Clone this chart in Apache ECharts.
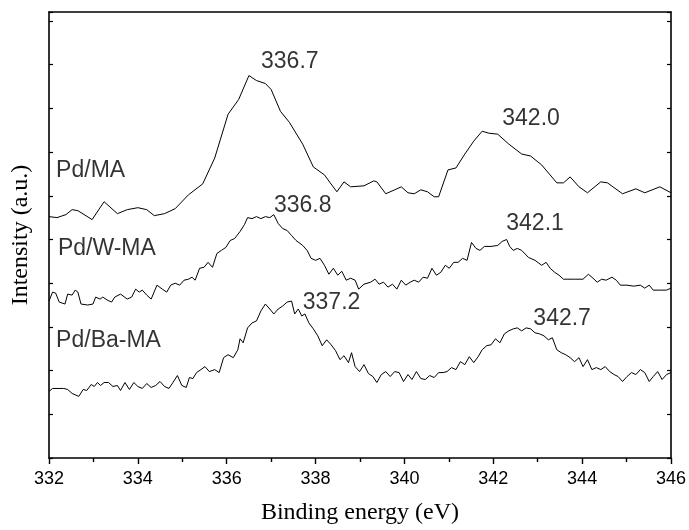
<!DOCTYPE html>
<html>
<head>
<meta charset="utf-8">
<script src="https://cdn.jsdelivr.net/npm/echarts@6/dist/echarts.min.js"></script>
<style>html,body{margin:0;padding:0;background:#fff;}#c{width:689px;height:530px;}</style>
</head>
<body>
<div id="c"></div>
<script>
// Binding energy (eV), intensity (a.u., offset stacked)
var pdMA = [
[332.00,243],[332.18,242],[332.38,245],[332.52,250],[332.65,249],[332.97,240],[333.24,258],[333.54,246],
[333.76,250],[334.00,252],[334.20,250],[334.37,244],[334.60,246],[334.84,251],[335.14,265],[335.46,276],
[335.73,302],[336.03,346],[336.27,361],[336.50,385],[336.67,380],[336.87,377],[337.00,371],[337.21,349],
[337.41,338],[337.71,316],[337.95,293],[338.20,285],[338.33,277],[338.48,268],[338.64,278],[338.79,273],
[339.09,274],[339.31,279],[339.38,278],[339.58,266],[339.78,270],[339.93,273],[340.08,267],[340.22,266],
[340.37,270],[340.52,268],[340.67,263],[340.77,263],[340.98,290],[341.16,292],[341.36,306],[341.56,319],
[341.75,329],[341.90,327],[342.10,326],[342.35,316],[342.64,306],[342.84,304],[343.09,295],[343.43,277],
[343.58,277],[343.73,283],[343.93,273],[344.12,267],[344.42,278],[344.57,277],[344.91,266],[345.21,271],
[345.41,267],[345.75,273],[346.00,267]
];
var pdWMA = [
[332.00,158],[332.08,167],[332.15,166],[332.23,157],[332.36,155],[332.42,165],[332.52,164],[332.59,169],
[332.65,167],[332.72,155],[332.87,154],[332.99,155],[333.05,162],[333.15,160],[333.21,162],[333.31,159],
[333.41,157],[333.48,162],[333.61,165],[333.76,160],[333.86,162],[333.95,170],[334.03,167],[334.10,169],
[334.20,164],[334.30,160],[334.43,174],[334.55,170],[334.65,167],[334.74,174],[334.84,176],[334.94,174],
[335.04,179],[335.14,180],[335.22,182],[335.29,179],[335.39,191],[335.49,192],[335.58,197],[335.68,192],
[335.78,206],[335.88,209],[335.98,212],[336.08,219],[336.18,221],[336.30,228],[336.40,235],[336.47,242],
[336.57,241],[336.67,243],[336.77,241],[336.87,243],[336.97,242],[337.06,245],[337.16,236],[337.26,231],
[337.36,229],[337.46,224],[337.56,219],[337.71,214],[337.81,209],[337.90,201],[338.00,199],[338.10,201],
[338.20,194],[338.30,185],[338.40,191],[338.50,184],[338.59,188],[338.69,179],[338.79,181],[338.89,179],
[338.97,170],[339.09,175],[339.24,177],[339.34,180],[339.43,175],[339.53,177],[339.63,172],[339.73,175],
[339.83,170],[339.93,179],[340.03,174],[340.13,177],[340.22,179],[340.32,177],[340.42,182],[340.52,181],
[340.62,191],[340.72,184],[340.82,187],[340.92,194],[341.01,191],[341.11,197],[341.21,197],[341.31,201],
[341.41,199],[341.51,217],[341.61,211],[341.70,209],[341.80,213],[341.95,213],[342.10,214],[342.20,218],
[342.30,220],[342.37,213],[342.45,209],[342.54,211],[342.64,209],[342.79,202],[342.94,199],[343.09,194],
[343.19,197],[343.28,191],[343.38,187],[343.48,184],[343.58,180],[343.68,180],[343.83,180],[343.93,180],
[344.02,180],[344.14,185],[344.22,182],[344.34,177],[344.44,180],[344.54,179],[344.67,182],[344.77,179],
[344.86,174],[345.01,174],[345.16,173],[345.31,174],[345.41,171],[345.51,174],[345.60,169],[345.75,169],
[345.90,169],[346.00,171]
];
var pdBaMA = [
[332.00,67],[332.08,70],[332.18,70],[332.33,70],[332.42,69],[332.52,65],[332.67,62],[332.77,69],
[332.85,68],[332.95,74],[333.02,72],[333.09,76],[333.16,73],[333.24,76],[333.34,76],[333.44,72],
[333.54,73],[333.61,68],[333.71,76],[333.81,69],[333.91,76],[334.00,72],[334.10,70],[334.20,75],
[334.30,71],[334.40,73],[334.50,77],[334.60,72],[334.70,70],[334.79,76],[334.89,83],[334.99,73],
[335.09,71],[335.16,81],[335.24,80],[335.32,86],[335.42,89],[335.51,92],[335.61,87],[335.73,89],
[335.83,86],[335.93,101],[336.03,104],[336.15,101],[336.25,109],[336.30,120],[336.37,116],[336.47,131],
[336.57,136],[336.67,138],[336.77,148],[336.87,155],[336.97,150],[337.06,145],[337.16,150],[337.26,153],
[337.36,157],[337.46,158],[337.53,145],[337.61,150],[337.69,143],[337.76,145],[337.85,136],[337.95,130],
[338.05,123],[338.15,113],[338.25,119],[338.35,114],[338.45,108],[338.55,99],[338.64,103],[338.74,96],
[338.81,106],[338.89,92],[338.99,87],[339.09,94],[339.19,85],[339.29,82],[339.38,76],[339.48,84],
[339.58,87],[339.68,82],[339.78,87],[339.88,86],[339.98,77],[340.08,84],[340.17,79],[340.27,87],
[340.37,80],[340.47,79],[340.57,83],[340.67,81],[340.77,86],[340.87,86],[340.96,87],[341.06,91],
[341.16,89],[341.26,97],[341.36,94],[341.46,102],[341.56,96],[341.66,102],[341.75,109],[341.85,113],
[341.95,114],[342.05,120],[342.15,116],[342.25,125],[342.35,128],[342.45,130],[342.54,131],[342.64,128],
[342.74,131],[342.84,130],[342.94,126],[343.04,125],[343.14,123],[343.24,119],[343.33,121],[343.43,109],
[343.53,106],[343.63,104],[343.73,101],[343.83,97],[343.93,101],[344.02,92],[344.12,99],[344.22,89],
[344.32,91],[344.42,89],[344.52,92],[344.62,87],[344.72,84],[344.81,82],[344.91,77],[345.01,82],
[345.11,86],[345.21,84],[345.31,89],[345.41,86],[345.51,77],[345.60,82],[345.70,87],[345.80,79],
[345.90,84],[346.00,86]
];
// Peak annotations: [x, y, text]
var peakLabels = [
[337.42,399,'336.7'],[342.85,342,'342.0'],
[337.71,254,'336.8'],[342.94,236,'342.1'],
[338.36,156,'337.2'],[343.55,140,'342.7']
];
// Sample names: [x, y, text]
var sampleLabels = [
[332.16,289,'Pd/MA'],[332.20,211,'Pd/W-MA'],[332.16,118,'Pd/Ba-MA']
];
var xTicks = {min:332, max:346, interval:2};

var chart = echarts.init(document.getElementById('c'), null, {renderer:'canvas'});
var sans = '"Liberation Sans", Arial, sans-serif';
var serif = '"Liberation Serif", "Times New Roman", serif';
function lineSeries(d){
  return {type:'line', data:d, symbol:'none', smooth:false, xAxisIndex:0, yAxisIndex:0,
    lineStyle:{color:'#000', width:1}, silent:true, animation:false};
}
function textSeries(d, align){
  return {type:'scatter', data:d, symbolSize:1, itemStyle:{color:'rgba(0,0,0,0)'}, silent:true,
    label:{show:true, position:'inside', formatter:function(p){return p.data[2];},
      fontFamily:sans, fontSize:23, color:'#000', textBorderWidth:0, textShadowBlur:0,
      align:align, verticalAlign:'middle'}};
}
chart.setOption({
  animation:false,
  backgroundColor:'#fff',
  grid:{left:49, right:17, top:12, bottom:69, containLabel:false},
  xAxis:[{
    type:'value', min:xTicks.min, max:xTicks.max, interval:xTicks.interval,
    name:'Binding energy (eV)', nameLocation:'middle', nameGap:43,
    nameTextStyle:{fontFamily:serif, fontSize:24, color:'#000'},
    axisLine:{show:true, onZero:false, lineStyle:{color:'#000', width:1.6}},
    axisTick:{show:true, inside:false, length:6, lineStyle:{color:'#000', width:1.4}},
    minorTick:{show:true, splitNumber:2, length:4, lineStyle:{color:'#000', width:1.4}},
    axisLabel:{fontFamily:sans, fontSize:18, color:'#000', margin:12},
    splitLine:{show:false}
  },{
    type:'value', position:'top', min:xTicks.min, max:xTicks.max,
    axisLine:{show:true, onZero:false, lineStyle:{color:'#000', width:1.6}},
    axisTick:{show:false}, axisLabel:{show:false}, splitLine:{show:false}
  }],
  yAxis:[{
    type:'value', min:0, max:449, interval:44,
    name:'Intensity (a.u.)', nameLocation:'middle', nameGap:16, nameRotate:90,
    nameTextStyle:{fontFamily:serif, fontSize:24, color:'#000'},
    axisLine:{show:true, onZero:false, lineStyle:{color:'#000', width:1.6}},
    axisTick:{show:true, inside:true, length:4, lineStyle:{color:'#000', width:1.2}},
    axisLabel:{show:false}, splitLine:{show:false}
  },{
    type:'value', position:'right', min:0, max:449, interval:44,
    axisLine:{show:true, onZero:false, lineStyle:{color:'#000', width:1.6}},
    axisTick:{show:true, inside:true, length:4, lineStyle:{color:'#000', width:1.2}},
    axisLabel:{show:false}, splitLine:{show:false}
  }],
  series:[
    lineSeries(pdMA), lineSeries(pdWMA), lineSeries(pdBaMA),
    textSeries(peakLabels, 'center'), textSeries(sampleLabels, 'left')
  ]
});
</script>
</body>
</html>
